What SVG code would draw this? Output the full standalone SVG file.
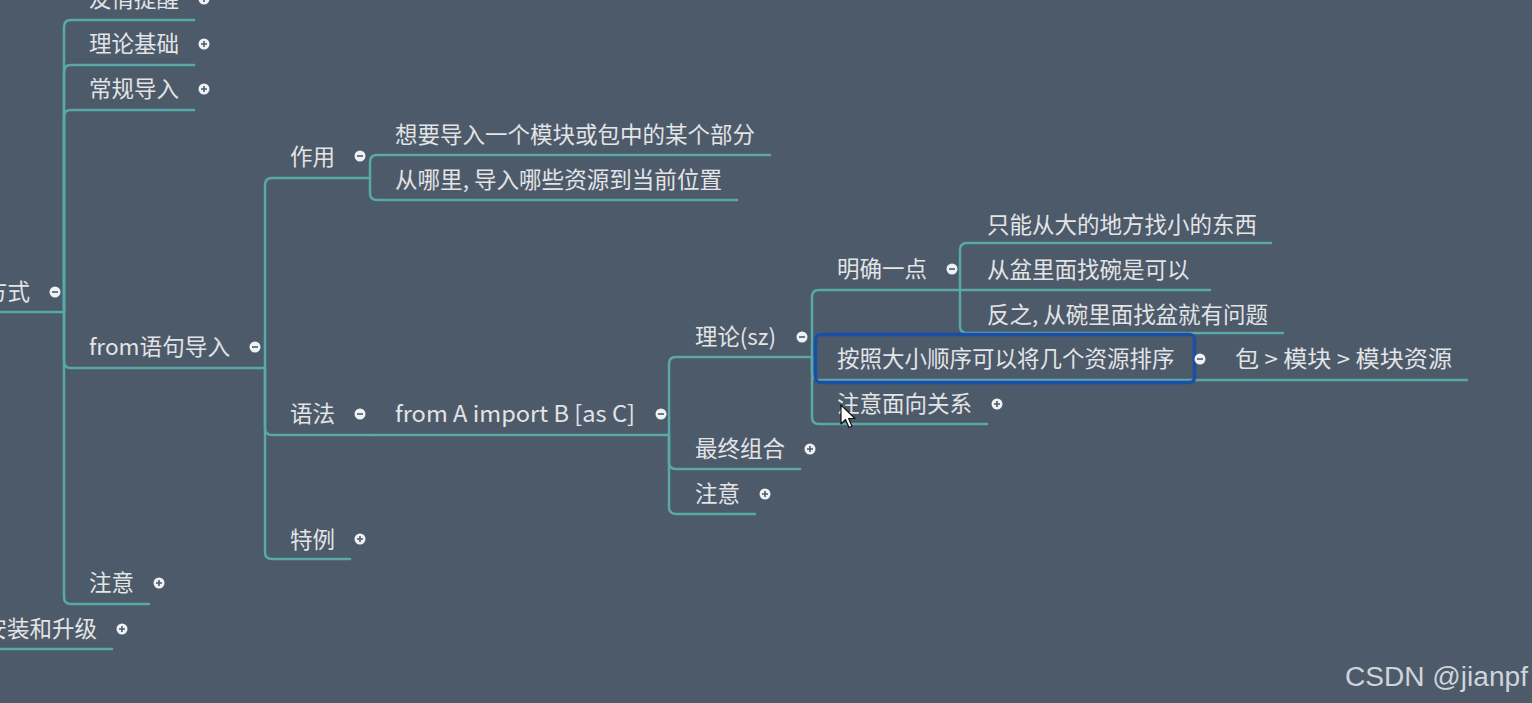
<svg xmlns="http://www.w3.org/2000/svg" width="1532" height="703" viewBox="0 0 1532 703">
<defs>
<style>
.bg{fill:#4d5a6a}
.ln{fill:none;stroke:#5aa9a9;stroke-width:2.5;stroke-linecap:round}
.t{font-family:"Noto Sans CJK SC","Microsoft YaHei",sans-serif;font-size:22.5px;fill:#e2e4e6}
.dot{fill:#eef2f4}
.sg{stroke:#4d5a6a;stroke-width:1.6}
.wm{font-family:"Liberation Sans",Arial,sans-serif;font-size:27px;fill:#cfd4da}
</style>
<g id="plus"><circle class="dot" r="5.5"/><path class="sg" d="M-3 0H3M0 -3V3"/></g>
<g id="minus"><circle class="dot" r="5.5"/><path class="sg" d="M-3 0H3"/></g>
</defs>
<rect class="bg" x="0" y="0" width="1532" height="703"/>

<g id="connectors">
<path class="ln" d="M0 312H64"/>
<path class="ln" d="M64 312V27Q64 20 71 20H194"/>
<path class="ln" d="M64 312V72Q64 65 71 65H194"/>
<path class="ln" d="M64 312V117Q64 110 71 110H194"/>
<path class="ln" d="M64 312V361Q64 368 71 368H265"/>
<path class="ln" d="M64 312V597Q64 604 71 604H149"/>
<path class="ln" d="M0 649H112"/>
<path class="ln" d="M265 368V185Q265 178 272 178H370"/>
<path class="ln" d="M265 368V428Q265 435 272 435H370"/>
<path class="ln" d="M265 368V552Q265 559 272 559H350"/>
<path class="ln" d="M370 178V162Q370 155 377 155H770"/>
<path class="ln" d="M370 178V193Q370 200 377 200H737"/>
<path class="ln" d="M370 435H669"/>
<path class="ln" d="M669 435V364Q669 357 676 357H812"/>
<path class="ln" d="M669 435V462Q669 469 676 469H800"/>
<path class="ln" d="M669 435V507Q669 514 676 514H755"/>
<path class="ln" d="M812 357V297Q812 290 819 290H960"/>
<path class="ln" d="M812 357V373Q812 380 819 380H1210"/>
<path class="ln" d="M812 357V417Q812 424 819 424H987"/>
<path class="ln" d="M960 290V250Q960 243 967 243H1271"/>
<path class="ln" d="M960 290H1210"/>
<path class="ln" d="M960 290V326Q960 333 967 333H1283"/>
<path class="ln" d="M1210 380H1467"/>
</g>

<g id="n-youqing"><text class="t" x="89" y="7">友情提醒</text><use href="#plus" x="204" y="-1"/></g>
<g id="n-lilun"><text class="t" x="89" y="52">理论基础</text><use href="#plus" x="204" y="44"/></g>
<g id="n-changgui"><text class="t" x="89" y="97">常规导入</text><use href="#plus" x="204" y="89"/></g>
<g id="n-fangshi"><text class="t" x="30" y="300" text-anchor="end">导入方式</text><use href="#minus" x="55" y="292"/></g>
<g id="n-from"><text class="t" x="89" y="355" textLength="141" lengthAdjust="spacingAndGlyphs">from语句导入</text><use href="#minus" x="255" y="347"/></g>
<g id="n-zhuyi1"><text class="t" x="89" y="591">注意</text><use href="#plus" x="159" y="583"/></g>
<g id="n-anzhuang"><text class="t" x="97" y="637" text-anchor="end">安装和升级</text><use href="#plus" x="122" y="629"/></g>

<g id="n-zuoyong"><text class="t" x="290" y="165">作用</text><use href="#minus" x="360" y="156"/></g>
<g id="n-yufa"><text class="t" x="290" y="422">语法</text><use href="#minus" x="360" y="414"/></g>
<g id="n-teli"><text class="t" x="290" y="548">特例</text><use href="#plus" x="360" y="539"/></g>

<g id="n-xiangyao"><text class="t" x="395" y="143">想要导入一个模块或包中的某个部分</text></g>
<g id="n-congnali"><text class="t" x="395" y="188" textLength="327" lengthAdjust="spacingAndGlyphs">从哪里, 导入哪些资源到当前位置</text></g>

<g id="n-fromA"><text class="t" x="395" y="422" textLength="240" lengthAdjust="spacingAndGlyphs">from A import B [as C]</text><use href="#minus" x="661" y="414"/></g>

<g id="n-lilunsz"><text class="t" x="695" y="345" textLength="81" lengthAdjust="spacingAndGlyphs">理论(sz)</text><use href="#minus" x="802" y="337"/></g>
<g id="n-zuizhong"><text class="t" x="695" y="457">最终组合</text><use href="#plus" x="810" y="449"/></g>
<g id="n-zhuyi2"><text class="t" x="695" y="502">注意</text><use href="#plus" x="765" y="494"/></g>

<g id="n-mingque"><text class="t" x="837" y="277">明确一点</text><use href="#minus" x="952" y="269"/></g>
<g id="n-anzhao"><rect x="815.5" y="334.5" width="379" height="48" rx="5" fill="none" stroke="#1b4ea6" stroke-width="3.5"/><text class="t" x="837" y="367">按照大小顺序可以将几个资源排序</text><use href="#minus" x="1200" y="359"/></g>
<g id="n-zhuyimian"><text class="t" x="837" y="412">注意面向关系</text><use href="#plus" x="997" y="404"/></g>

<g id="n-zhineng"><text class="t" x="987" y="233">只能从大的地方找小的东西</text></g>
<g id="n-congpen"><text class="t" x="987" y="278">从盆里面找碗是可以</text></g>
<g id="n-fanzhi"><text class="t" x="987" y="323" textLength="281" lengthAdjust="spacingAndGlyphs">反之, 从碗里面找盆就有问题</text></g>
<g id="n-bao"><text class="t" x="1235" y="367" textLength="217" lengthAdjust="spacingAndGlyphs">包 &gt; 模块 &gt; 模块资源</text></g>

<path id="cursor" d="M841 405V424L845.5 419.5L849 427.5L852 426.3L848.6 418.5H855Z" fill="#fff" stroke="#111" stroke-width="1.2" stroke-linejoin="round"/>

<text class="wm" x="1345" y="686" textLength="183" lengthAdjust="spacingAndGlyphs">CSDN @jianpf</text>
</svg>
